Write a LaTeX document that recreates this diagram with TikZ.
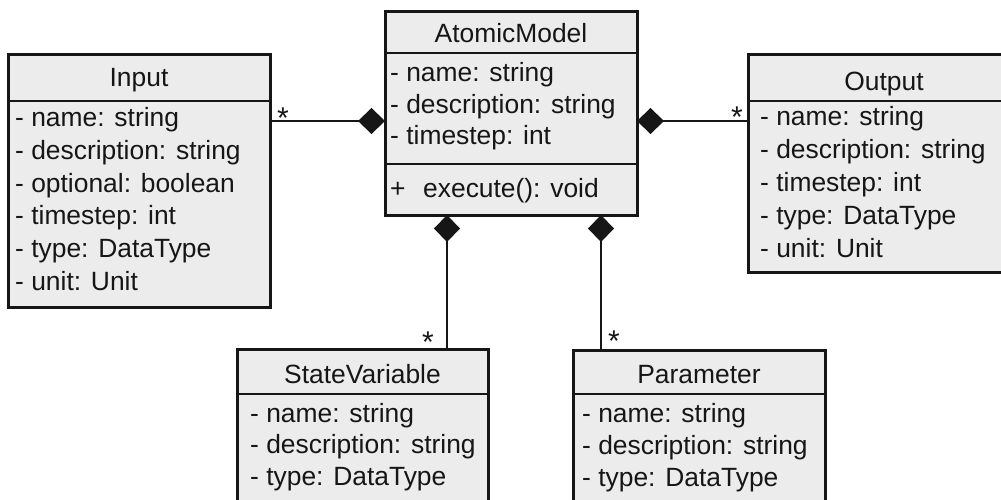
\documentclass[tikz,border=0pt]{standalone}
\usepackage{fontspec}
\setmainfont{Liberation Sans}
\usetikzlibrary{arrows.meta}
\definecolor{boxfill}{RGB}{236,236,237}
\definecolor{ink}{RGB}{22,22,22}
\begin{document}
\begin{tikzpicture}[x=1pt,y=-1pt,
  umlbox/.style={draw=ink, line width=3pt, fill=boxfill, anchor=north west, inner sep=0pt, outer sep=0pt},
  divider/.style={draw=ink, line width=2pt},
  txt/.style={anchor=base west, inner sep=0pt, font=\fontsize{26.4}{32}\selectfont, text=ink},
  head/.style={anchor=base, inner sep=0pt, font=\fontsize{26.4}{32}\selectfont, text=ink},
  mult/.style={anchor=base, inner sep=0pt, font=\fontsize{30}{32}\selectfont, text=ink},
  conn/.style={draw=ink, line width=2.2pt, {Diamond[length=27pt,width=26pt]}-}
]
\useasboundingbox (0,0) rectangle (1001,500);
\clip (0,0) rectangle (1001,500);
\fill[white] (0,0) rectangle (1001,500);

% boxes
\node[umlbox, minimum width=262pt, minimum height=252pt] (inp) at (8,55) {};
\node[umlbox, minimum width=252pt, minimum height=203pt] (am) at (385,12) {};
\node[umlbox, minimum width=310pt, minimum height=217pt] (out) at (748,55) {};
\node[umlbox, minimum width=251pt, minimum height=160pt] (sv) at (237,349) {};
\node[umlbox, minimum width=252pt, minimum height=160pt] (par) at (573,350) {};

% dividers
\draw[divider] (inp.west |- 0,101) -- (inp.east |- 0,101);
\draw[divider] (am.west |- 0,53) -- (am.east |- 0,53);
\draw[divider] (am.west |- 0,164) -- (am.east |- 0,164);
\draw[divider] (out.west |- 0,101) -- (out.east |- 0,101);
\draw[divider] (sv.west |- 0,394) -- (sv.east |- 0,394);
\draw[divider] (par.west |- 0,394) -- (par.east |- 0,394);

% Input
\node[head] (inpH) at (139,87) {Input};
\node[txt] (inp1) at (15,127) {- name: string};
\node[txt] (inp2) at (15,159.6) {- description: string};
\node[txt] (inp3) at (15,192.2) {- optional: boolean};
\node[txt] (inp4) at (15,224.8) {- timestep: int};
\node[txt] (inp5) at (15,257.4) {- type: DataType};
\node[txt] (inp6) at (15,290) {- unit: Unit};

% AtomicModel
\node[head] (amH) at (511,43) {AtomicModel};
\node[txt] (am1) at (390,82) {- name: string};
\node[txt] (am2) at (390,113.5) {- description: string};
\node[txt] (am3) at (390,145) {- timestep: int};
\node[txt] (am4) at (390,197) {+};
\node[txt] (am5) at (423,197) {execute(): void};

% Output
\node[head] (outH) at (884,91) {Output};
\node[txt] (out1) at (760,125) {- name: string};
\node[txt] (out2) at (760,158) {- description: string};
\node[txt] (out3) at (760,191) {- timestep: int};
\node[txt] (out4) at (760,224) {- type: DataType};
\node[txt] (out5) at (760,257) {- unit: Unit};

% StateVariable
\node[head] (svH) at (362.5,383) {StateVariable};
\node[txt] (sv1) at (250,422) {- name: string};
\node[txt] (sv2) at (250,453.5) {- description: string};
\node[txt] (sv3) at (250,485) {- type: DataType};

% Parameter
\node[head] (parH) at (699,383) {Parameter};
\node[txt] (par1) at (582,422) {- name: string};
\node[txt] (par2) at (582,454) {- description: string};
\node[txt] (par3) at (582,486) {- type: DataType};

% connectors
\draw[conn] (am.west |- 0,121) -- (inp.east |- 0,121);
\draw[conn] (am.east |- 0,121) -- (out.west |- 0,121);
\draw[conn] (am.south -| 447,0) -- (sv.north -| 447,0);
\draw[conn] (am.south -| 601,0) -- (par.north -| 601,0);

% multiplicities
\node[mult] (m1) at (283,129) {*};
\node[mult] (m2) at (737,128) {*};
\node[mult] (m3) at (428,352) {*};
\node[mult] (m4) at (614,351) {*};
\end{tikzpicture}
\end{document}
